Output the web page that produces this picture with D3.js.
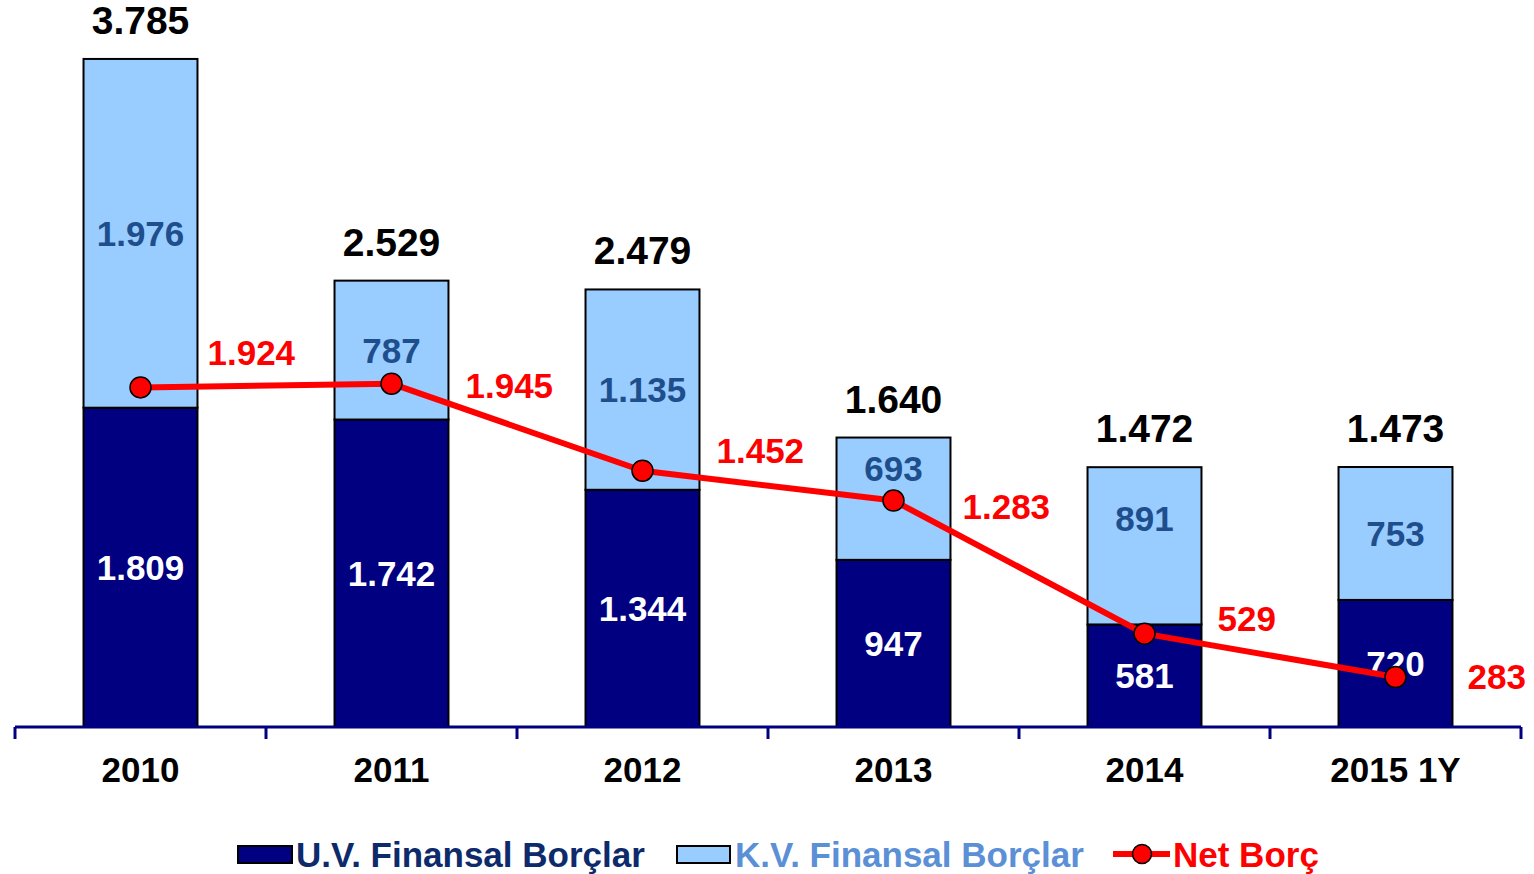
<!DOCTYPE html>
<html>
<head>
<meta charset="utf-8">
<script src="https://cdn.jsdelivr.net/npm/d3@7"></script>
<style>
  html, body { margin: 0; padding: 0; background: #ffffff; }
  svg { display: block; }
  text { font-family: "Liberation Sans", Arial, sans-serif; font-weight: bold; }
</style>
</head>
<body>
<svg id="chart" width="1534" height="874"></svg>
<script>
// Financial debt by year (million), long-term / short-term, plus net debt
const categories = ["2010", "2011", "2012", "2013", "2014", "2015 1Y"];
const longTermDebt = [1809, 1742, 1344, 947, 581, 720];     // U.V. Finansal Borçlar
const shortTermDebt = [1976, 787, 1135, 693, 891, 753];     // K.V. Finansal Borçlar
const totalDebt = [3785, 2529, 2479, 1640, 1472, 1473];
const netDebt = [1924, 1945, 1452, 1283, 529, 283];          // Net Borç
const seriesNames = ["U.V. Finansal Borçlar", "K.V. Finansal Borçlar", "Net Borç"];

// Turkish number format: dot as thousands separator
const fmt = d3.formatLocale({ decimal: ",", thousands: ".", grouping: [3], currency: ["", ""] }).format(",d");

const svg = d3.select("#chart");
const navy = "#000080", lightBlue = "#99CCFF", red = "#FF0000";
const labelSize = 35, totalSize = 39;

const x = d3.scaleBand().domain(categories).range([15, 1521]).paddingInner(0.546).paddingOuter(0.273);
const y = d3.scaleLinear().domain([0, 4000]).range([727, 21]);

const rows = categories.map((c, i) => ({
  cat: c, lt: longTermDebt[i], st: shortTermDebt[i], total: totalDebt[i], net: netDebt[i]
}));

// Stacked bars
const g = svg.append("g");
g.selectAll("rect.lt").data(rows).join("rect")
  .attr("x", d => x(d.cat)).attr("width", x.bandwidth())
  .attr("y", d => y(d.lt)).attr("height", d => y(0) - y(d.lt))
  .attr("fill", navy).attr("stroke", "#000").attr("stroke-width", 2);
g.selectAll("rect.st").data(rows).join("rect")
  .attr("x", d => x(d.cat)).attr("width", x.bandwidth())
  .attr("y", d => y(d.lt + d.st)).attr("height", d => y(d.lt) - y(d.lt + d.st))
  .attr("fill", lightBlue).attr("stroke", "#000").attr("stroke-width", 2);

// Category axis along the baseline
const axisG = svg.append("g");
axisG.append("line").attr("x1", 15).attr("x2", 1521).attr("y1", y(0)).attr("y2", y(0))
  .attr("stroke", navy).attr("stroke-width", 3);
const bounds = categories.map(c => x(c) - x.step() * x.paddingInner() / 2);
bounds.push(1521);
bounds[0] = 15;
axisG.selectAll("line.tick").data(bounds).join("line")
  .attr("x1", d => d).attr("x2", d => d).attr("y1", y(0)).attr("y2", y(0) + 12)
  .attr("stroke", navy).attr("stroke-width", 3);
axisG.selectAll("text.cat").data(categories).join("text")
  .attr("x", d => x(d) + x.bandwidth() / 2).attr("y", 782)
  .attr("text-anchor", "middle").attr("font-size", labelSize).attr("fill", "#000")
  .text(d => d);

// Segment labels
const cx = d => x(d.cat) + x.bandwidth() / 2;
const mid = labelSize * 0.36;
g.selectAll("text.lt").data(rows).join("text")
  .attr("x", cx).attr("y", d => (y(0) + y(d.lt)) / 2 + mid)
  .attr("text-anchor", "middle").attr("font-size", labelSize).attr("fill", "#ffffff")
  .text(d => fmt(d.lt));
// short-term labels are lifted clear of the net-debt line where it crosses them
const stLift = { "2013": -30, "2014": -27 };
g.selectAll("text.st").data(rows).join("text")
  .attr("x", cx).attr("y", d => (y(d.lt) + y(d.lt + d.st)) / 2 + mid + (stLift[d.cat] || 0))
  .attr("text-anchor", "middle").attr("font-size", labelSize).attr("fill", "#1F4E8C")
  .text(d => fmt(d.st));
g.selectAll("text.total").data(rows).join("text")
  .attr("x", cx).attr("y", d => y(d.total) - 25)
  .attr("text-anchor", "middle").attr("font-size", totalSize).attr("fill", "#000")
  .text(d => fmt(d.total));

// Net debt line with markers
const line = d3.line().x(cx).y(d => y(d.net));
svg.append("path").datum(rows).attr("d", line)
  .attr("fill", "none").attr("stroke", red).attr("stroke-width", 6).attr("stroke-linejoin", "round");
svg.selectAll("circle.net").data(rows).join("circle")
  .attr("cx", cx).attr("cy", d => y(d.net)).attr("r", 10.5)
  .attr("fill", red).attr("stroke", "#000").attr("stroke-width", 1.5);
// net-debt labels sit to the right of each marker, nudged off the line
const netShift = {
  "2010": [67, -35], "2011": [74, 2], "2012": [74, -20],
  "2013": [69, 6], "2014": [73, -15], "2015 1Y": [72, -1]
};
svg.selectAll("text.net").data(rows).join("text")
  .attr("x", d => cx(d) + netShift[d.cat][0]).attr("y", d => y(d.net) + mid + netShift[d.cat][1])
  .attr("text-anchor", "start").attr("font-size", labelSize).attr("fill", red)
  .text(d => fmt(d.net));

// Legend
const lg = svg.append("g");
lg.append("rect").attr("x", 238).attr("y", 846).attr("width", 54).attr("height", 17)
  .attr("fill", navy).attr("stroke", "#000").attr("stroke-width", 2);
lg.append("text").attr("x", 296).attr("y", 867).attr("font-size", labelSize).attr("fill", "#0D2A6B").text(seriesNames[0]);
lg.append("rect").attr("x", 677).attr("y", 846).attr("width", 53).attr("height", 17)
  .attr("fill", lightBlue).attr("stroke", "#000").attr("stroke-width", 2);
lg.append("text").attr("x", 735).attr("y", 867).attr("font-size", labelSize).attr("fill", "#5B8FD6").text(seriesNames[1]);
lg.append("line").attr("x1", 1113).attr("x2", 1170).attr("y1", 854).attr("y2", 854)
  .attr("stroke", red).attr("stroke-width", 6);
lg.append("circle").attr("cx", 1142).attr("cy", 854).attr("r", 9.5)
  .attr("fill", red).attr("stroke", "#000").attr("stroke-width", 1.5);
lg.append("text").attr("x", 1173).attr("y", 867).attr("font-size", labelSize).attr("fill", red).text(seriesNames[2]);
</script>
</body>
</html>
